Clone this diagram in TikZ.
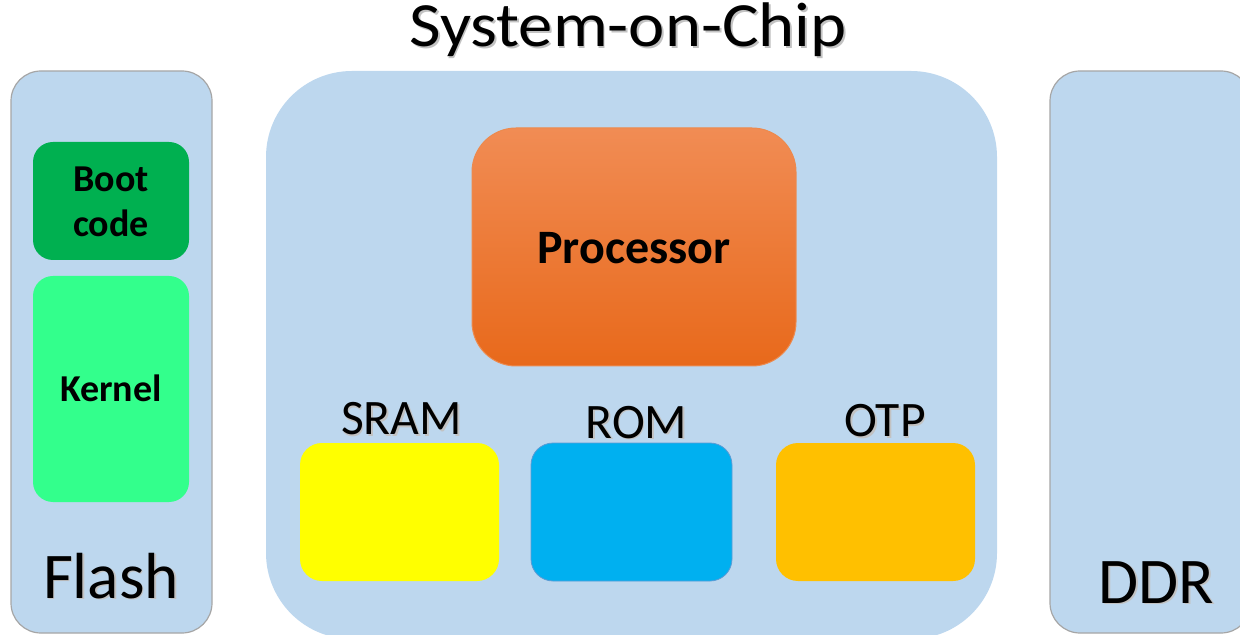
\documentclass[tikz,border=0pt]{standalone}
\usepackage{fontspec}
\setmainfont{Carlito}

\definecolor{panelblue}{HTML}{BDD7EE}
\definecolor{paneledge}{HTML}{A6A6A6}
\definecolor{bootgreen}{HTML}{00B050}
\definecolor{kernelgreen}{HTML}{33FF8C}
\definecolor{proctop}{HTML}{F18C54}
\definecolor{procbot}{HTML}{E8691B}
\definecolor{procedge}{HTML}{EC8A4E}
\definecolor{sramyellow}{HTML}{FFFF00}
\definecolor{romblue}{HTML}{00B0F0}
\definecolor{romedge}{HTML}{5B9BD5}
\definecolor{otpamber}{HTML}{FFC000}
\definecolor{textshade}{HTML}{9A9A9A}

% text with a faint drop shadow
\newcommand\shadedtext[1]{\makebox[0pt][l]{\kern0.9pt\raisebox{-0.9pt}{\textcolor{textshade!60}{#1}}}#1}

\tikzset{
  panel/.style={draw=paneledge, line width=0.6pt, fill=panelblue, rounded corners=15pt,
                inner sep=0pt, outer sep=0pt},
  chip/.style={fill=panelblue, rounded corners=43pt, inner sep=0pt, outer sep=0pt},
  block/.style={rounded corners=11pt, inner sep=0pt, outer sep=0pt},
  bigtitle/.style={anchor=base, inner sep=0pt, font=\fontsize{32.6}{39}\selectfont},
  memtitle/.style={anchor=base, inner sep=0pt, font=\fontsize{24.8}{30}\selectfont},
  boldlabel/.style={anchor=base, inner sep=0pt, align=center, font=\bfseries\fontsize{19}{22.5}\selectfont},
}

\begin{document}
\begin{tikzpicture}[x=0.5pt, y=-0.5pt]
  \clip (0,0) rectangle (1240,635);

  % outer parts: flash, system-on-chip, DDR
  \node[panel, minimum width=100.5pt, minimum height=281pt] (flash) at (111.5,352) {};
  \node[chip, minimum width=365.5pt, minimum height=284pt] (soc) at (631.5,355) {};
  \node[panel, minimum width=100.5pt, minimum height=281pt] (ddr) at (1150.5,352) {};

  % flash contents
  \node[block, fill=bootgreen, rounded corners=10pt, minimum width=78pt, minimum height=59pt] (boot) at (111,201) {};
  \node[block, fill=kernelgreen, rounded corners=10pt, minimum width=78pt, minimum height=113pt] (kernel) at (111,389) {};
  \node[boldlabel] (boottext) at (111,237) {Boot\\code};
  \node[boldlabel] (kerneltext) at (111,401) {Kernel};

  % processor
  \node[block, draw=procedge, line width=0.5pt, rounded corners=22pt, top color=proctop, bottom color=procbot,
        minimum width=162pt, minimum height=119pt] (cpu) at (634,247) {};
  \node[anchor=base, inner sep=0pt, font=\bfseries\fontsize{24}{29}\selectfont] (cputext) at (634,264) {Processor};

  % on-chip memories
  \node[block, fill=sramyellow, minimum width=99.5pt, minimum height=69pt] (sram) at (399.5,512) {};
  \node[block, fill=romblue, draw=romedge, line width=0.4pt, minimum width=100.5pt, minimum height=69pt] (rom) at (631.5,512) {};
  \node[block, fill=otpamber, minimum width=99.5pt, minimum height=69pt] (otp) at (875.5,512) {};

  \node[memtitle] (sramtext) at (401.5,435) {\shadedtext{SRAM}};
  \node[memtitle] (romtext) at (636.5,438) {\shadedtext{ROM}};
  \node[memtitle] (otptext) at (885,437) {\shadedtext{OTP}};

  % titles
  \node[bigtitle, font=\fontsize{31.5}{38}\selectfont, xscale=1.09] (soctext) at (628,47) {\shadedtext{System-on-Chip}};
  \node[bigtitle] (flashtext) at (111,598) {\shadedtext{Flash}};
  \node[bigtitle] (ddrtext) at (1156,603) {\shadedtext{DDR}};
\end{tikzpicture}
\end{document}
